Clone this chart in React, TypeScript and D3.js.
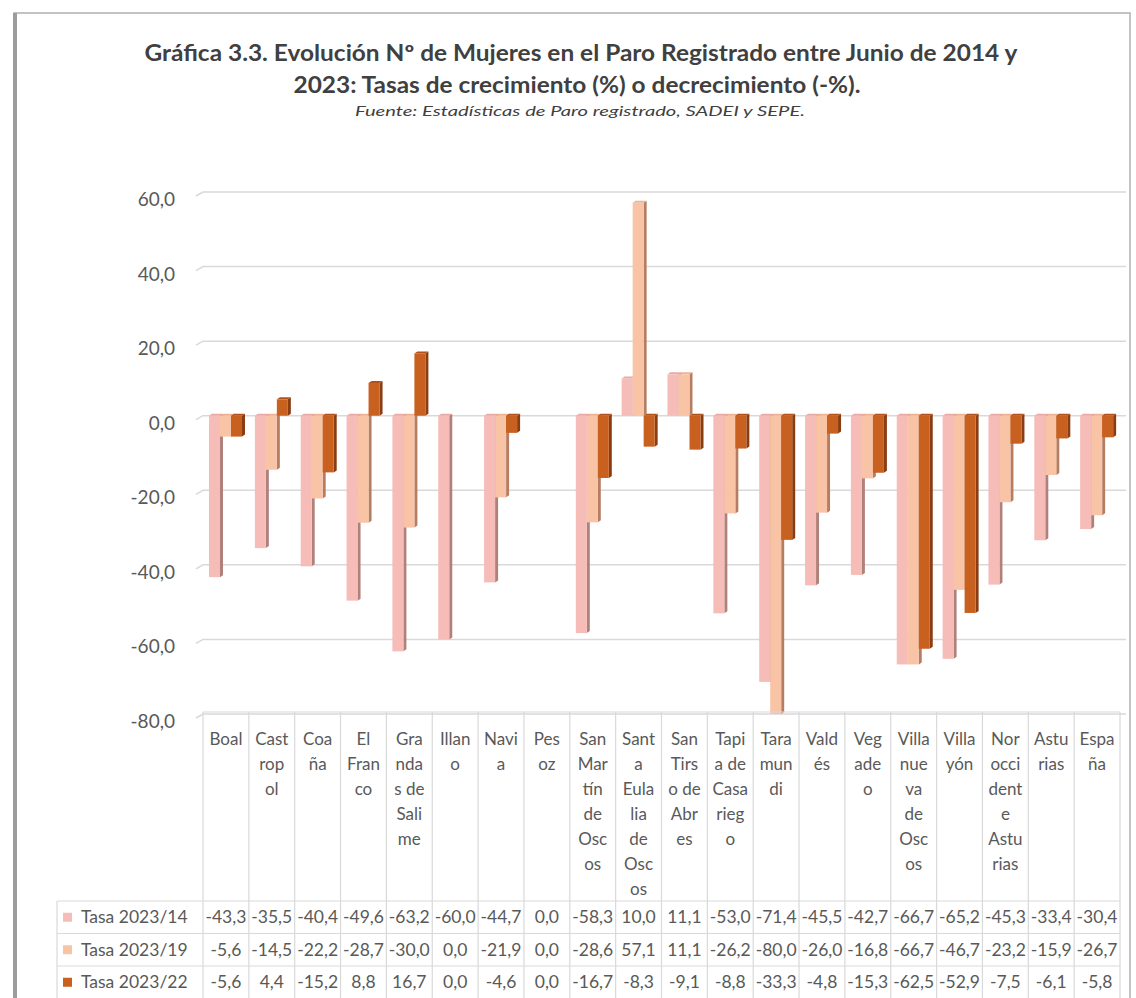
import React from "react";
import * as d3 from "d3";

const categories = ["Boal","Castropol","Coaña","El Franco","Grandas de Salime","Illano","Navia","Pesoz","San Martín de Oscos","Santa Eulalia de Oscos","San Tirso de Abres","Tapia de Casariego","Taramundi","Valdés","Vegadeo","Villanueva de Oscos","Villayón","Noroccidente Asturias","Asturias","España"];
const categoryLines = [["Boal"],["Cast","rop","ol"],["Coa","ña"],["El","Fran","co"],["Gra","nda","s de","Sali","me"],["Illan","o"],["Navi","a"],["Pes","oz"],["San","Mar","tín","de","Osc","os"],["Sant","a","Eula","lia","de","Osc","os"],["San","Tirs","o de","Abr","es"],["Tapi","a de","Casa","rieg","o"],["Tara","mun","di"],["Vald","és"],["Veg","ade","o"],["Villa","nue","va","de","Osc","os"],["Villa","yón"],["Nor","occi","dent","e","Astu","rias"],["Astu","rias"],["Espa","ña"]];

const seriesNames = ["Tasa 2023/14","Tasa 2023/19","Tasa 2023/22"];
const tasa2314 = [-43.3,-35.5,-40.4,-49.6,-63.2,-60.0,-44.7,0.0,-58.3,10.0,11.1,-53.0,-71.4,-45.5,-42.7,-66.7,-65.2,-45.3,-33.4,-30.4];
const tasa2319 = [-5.6,-14.5,-22.2,-28.7,-30.0,0.0,-21.9,0.0,-28.6,57.1,11.1,-26.2,-80.0,-26.0,-16.8,-66.7,-46.7,-23.2,-15.9,-26.7];
const tasa2322 = [-5.6,4.4,-15.2,8.8,16.7,0.0,-4.6,0.0,-16.7,-8.3,-9.1,-8.8,-33.3,-4.8,-15.3,-62.5,-52.9,-7.5,-6.1,-5.8];
const seriesValues = [tasa2314, tasa2319, tasa2322];
const yTicks = [60,40,20,0,-20,-40,-60,-80];

const titleLine1 = "Gráfica 3.3. Evolución Nº de Mujeres en el Paro Registrado entre Junio de 2014 y";
const titleLine2 = "2023: Tasas de crecimiento (%) o decrecimiento (-%).";
const subtitle = "Fuente: Estadísticas de Paro registrado, SADEI y SEPE.";

const frontColors = ["#F6BCB8", "#F9C3A6", "#C8601F"];
const sideColors = ["#B0807A", "#B57E62", "#8A3C12"];
const topColors = ["#E9A9A4", "#EDB294", "#B2521A"];

const FONT = "Lato, 'Open Sans', sans-serif";
const TXT = "#595959";

const fmt = (v: number) => d3.format(".1f")(v).replace(".", ",").replace("−", "-");

export default function App() {
  const W = 1136, H = 998;
  const tableLeft = 203, tableRight = 1120;
  const x = d3.scaleBand<string>().domain(categories).range([tableLeft, tableRight]).paddingInner(0).paddingOuter(0);
  const sub = d3.scaleBand<string>().domain(seriesNames).range([6, 39]).paddingInner(0);
  const y = d3.scaleLinear().domain([-80, 60]).range([714, 192]);
  const side = 3, depth = 2;
  const bw = sub.bandwidth();

  const tableTop = 712;
  const headerBottom = 901;
  const rowH = 32.5;
  const legendLeft = 57;

  const bars: JSX.Element[] = [];
  seriesValues.forEach((vals, si) => {
    vals.forEach((v, ci) => {
      const gx = x(categories[ci])!;
      const bx = gx + sub(seriesNames[si])!;
      const y0 = y(0), y1 = y(v);
      const top = Math.min(y0, y1), h = Math.abs(y1 - y0);
      if (h < 0.5) return;
      bars.push(
        <g key={`b${si}-${ci}`}>
          <path d={`M${bx + bw},${top} L${bx + bw + side},${top - depth} L${bx + bw + side},${top + h - depth} L${bx + bw},${top + h} Z`} fill={sideColors[si]} />
          <path d={`M${bx},${top} L${bx + side},${top - depth} L${bx + bw + side},${top - depth} L${bx + bw},${top} Z`} fill={topColors[si]} />
          <rect x={bx} y={top} width={bw} height={h} fill={frontColors[si]} />
        </g>
      );
    });
  });

  return (
    <svg width={W} height={H} style={{ position: "absolute", left: 0, top: 0, background: "#fff" }} fontFamily={FONT}>
      <rect x={0} y={0} width={W} height={H} fill="#fff" />
      {/* chart frame */}
      <rect x={14} y={13} width={1116} height={1000} fill="none" stroke="#B0B0B0" strokeWidth={1.5} />
      <line x1={15} y1={13} x2={15} y2={H} stroke="#9C9C9C" strokeWidth={4} />

      {/* titles */}
      <text x={581} y={61} textAnchor="middle" fontSize={22} fontWeight={700} fill="#404040" textLength={873} lengthAdjust="spacingAndGlyphs">{titleLine1}</text>
      <text x={577} y={93} textAnchor="middle" fontSize={22} fontWeight={700} fill="#404040" textLength={567} lengthAdjust="spacingAndGlyphs">{titleLine2}</text>
      <text x={580} y={116} textAnchor="middle" fontSize={14} fontStyle="italic" fill="#404040" textLength={450} lengthAdjust="spacingAndGlyphs">{subtitle}</text>

      {/* gridlines */}
      {yTicks.map((t) => (
        <path key={`g${t}`} d={`M196,${y(t) + 4} L203,${y(t)} H1126`} fill="none" stroke="#D9D9D9" strokeWidth={1.5} />
      ))}
      {/* y labels */}
      {yTicks.map((t) => (
        <text key={`yl${t}`} x={175} y={y(t) + 14} textAnchor="end" fontSize={19} fill={TXT}>{fmt(t)}</text>
      ))}

      {/* bars */}
      {bars}

      {/* data table */}
      <g stroke="#D9D9D9" strokeWidth={1.2} fill="none">
        <line x1={tableLeft} y1={tableTop} x2={tableRight} y2={tableTop} />
        {categories.map((c, i) => (
          <line key={`v${i}`} x1={x(c)!} y1={tableTop} x2={x(c)!} y2={H} />
        ))}
        <line x1={tableRight} y1={tableTop} x2={tableRight} y2={H} />
        <line x1={legendLeft} y1={headerBottom} x2={legendLeft} y2={H} />
        {seriesNames.map((s, i) => (
          <line key={`h${i}`} x1={legendLeft} y1={headerBottom + i * rowH} x2={tableRight} y2={headerBottom + i * rowH} />
        ))}
      </g>

      {/* category labels */}
      {categories.map((c, ci) => (
        <text key={`c${ci}`} textAnchor="middle" fontSize={17} fill={TXT}>
          {categoryLines[ci].map((ln, li) => (
            <tspan key={li} x={x(c)! + x.bandwidth() / 2} y={745 + li * 25}>{ln}</tspan>
          ))}
        </text>
      ))}

      {/* legend keys + values */}
      {seriesNames.map((s, si) => {
        const cy = headerBottom + si * rowH + rowH / 2;
        return (
          <g key={`r${si}`}>
            <rect x={63} y={cy - 4.5} width={9} height={9} fill={frontColors[si]} />
            <text x={81} y={cy + 6} fontSize={17.5} fill={TXT}>{s}</text>
            {seriesValues[si].map((v, ci) => (
              <text key={`t${ci}`} x={x(categories[ci])! + x.bandwidth() / 2} y={cy + 6} textAnchor="middle" fontSize={17.5} fill={TXT}>{fmt(v)}</text>
            ))}
          </g>
        );
      })}
    </svg>
  );
}
